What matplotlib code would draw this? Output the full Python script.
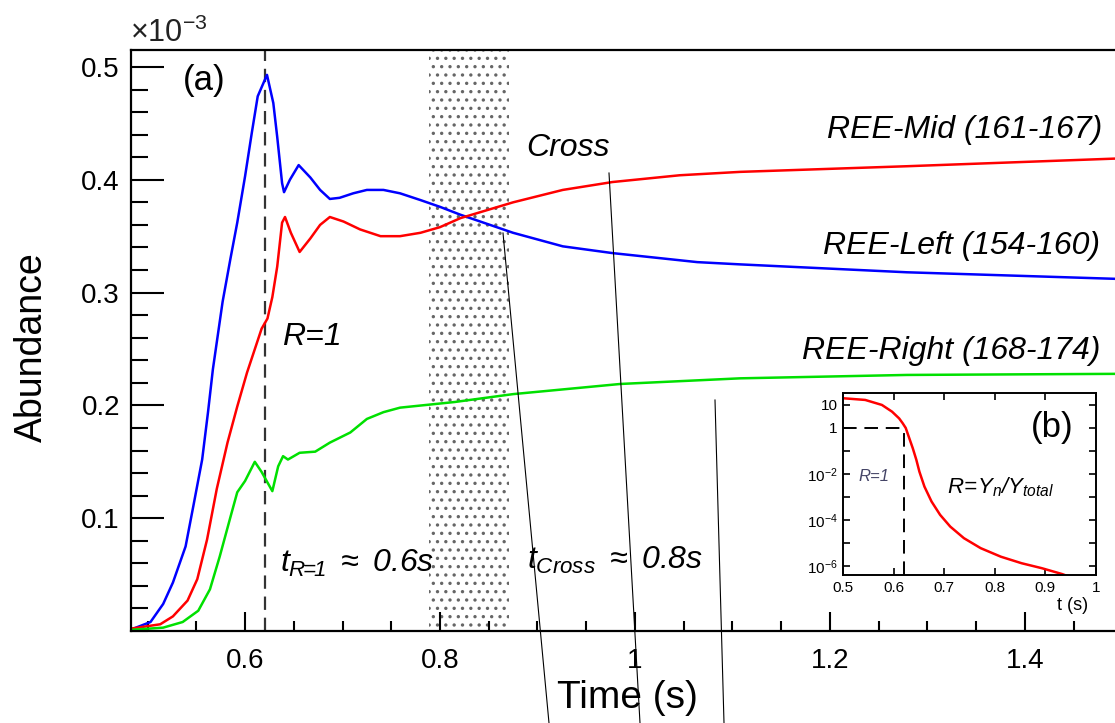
import matplotlib.pyplot as plt
from matplotlib.ticker import MultipleLocator
from matplotlib.lines import Line2D

plt.rcParams['font.family'] = ['Liberation Sans', 'DejaVu Sans']
plt.rcParams['mathtext.fontset'] = 'custom'
plt.rcParams['mathtext.rm'] = 'Liberation Sans:italic'
plt.rcParams['mathtext.it'] = 'Liberation Sans:italic'
plt.rcParams['mathtext.sf'] = 'Liberation Sans'
plt.rcParams['mathtext.bf'] = 'Liberation Sans:bold'
plt.rcParams['hatch.linewidth'] = 1.2

# panel (a): abundances, in units of 1e-3
t_left = [0.482, 0.503, 0.516, 0.526, 0.539, 0.547, 0.556, 0.562, 0.567, 0.572,
          0.577, 0.585, 0.592, 0.600, 0.607, 0.613, 0.6225, 0.629, 0.633,
          0.638, 0.640, 0.646, 0.655, 0.667, 0.677, 0.687, 0.697, 0.711, 0.725,
          0.742, 0.759, 0.780, 0.800, 0.821, 0.875, 0.926, 0.977, 1.064, 1.108,
          1.279, 1.50]
y_left = [0.001, 0.008, 0.024, 0.043, 0.075, 0.111, 0.152, 0.194, 0.232, 0.262,
          0.292, 0.330, 0.362, 0.403, 0.442, 0.474, 0.493, 0.468, 0.438,
          0.397, 0.389, 0.400, 0.413, 0.402, 0.391, 0.383, 0.384, 0.388, 0.391,
          0.391, 0.388, 0.382, 0.376, 0.369, 0.353, 0.341, 0.335, 0.327, 0.325,
          0.318, 0.312]

t_mid = [0.482, 0.513, 0.526, 0.541, 0.551, 0.561, 0.571, 0.582, 0.592, 0.602,
         0.612, 0.617, 0.623, 0.628, 0.633, 0.638, 0.641, 0.647, 0.656, 0.667,
         0.677, 0.687, 0.701, 0.718, 0.739, 0.759, 0.780, 0.800, 0.821, 0.875,
         0.926, 0.977, 1.046, 1.108, 1.279, 1.50]
y_mid = [0.002, 0.006, 0.013, 0.027, 0.046, 0.081, 0.126, 0.167, 0.199, 0.229,
         0.255, 0.268, 0.277, 0.296, 0.323, 0.362, 0.367, 0.353, 0.336, 0.348,
         0.360, 0.367, 0.363, 0.356, 0.350, 0.350, 0.353, 0.358, 0.366, 0.380,
         0.391, 0.398, 0.404, 0.407, 0.412, 0.419]

t_right = [0.482, 0.516, 0.536, 0.552, 0.564, 0.574, 0.585, 0.592, 0.600, 0.610,
           0.617, 0.628, 0.634, 0.639, 0.644, 0.656, 0.672, 0.687, 0.708, 0.725,
           0.742, 0.759, 0.815, 0.875, 0.985, 1.108, 1.279, 1.50]
y_right = [0.001, 0.003, 0.008, 0.018, 0.037, 0.066, 0.101, 0.123, 0.133, 0.150,
           0.141, 0.124, 0.146, 0.155, 0.152, 0.158, 0.159, 0.167, 0.176, 0.188,
           0.194, 0.198, 0.203, 0.210, 0.219, 0.224, 0.227, 0.228]

labels = ['REE-Left (154-160)', 'REE-Mid (161-167)', 'REE-Right (168-174)']
colors = ['#0000ff', '#ff0000', '#00e000']
label_pos = [(1.193, 0.341), (1.197, 0.444), (1.171, 0.248)]

t_r1 = 0.62
cross_band = (0.789, 0.871)

yticks = [0.1, 0.2, 0.3, 0.4, 0.5]
xticks = [0.6, 0.8, 1.0, 1.2, 1.4]
xtick_labels = ['0.6', '0.8', '1', '1.2', '1.4']

# panel (b): R = Y_n / Y_total
t_ratio = [0.5, 0.544, 0.577, 0.597, 0.611, 0.618, 0.624, 0.631, 0.638, 0.645,
           0.651, 0.661, 0.675, 0.692, 0.712, 0.739, 0.772, 0.812, 0.853, 0.893,
           0.933, 0.945]
r_ratio = [19.6, 16.5, 10, 5.1, 2.6, 1.6, 1.0, 0.36, 0.13, 0.041,
           0.0126, 2.8e-3, 6.3e-4, 1.65e-4, 5.1e-5, 1.6e-5, 5.9e-6, 2.5e-6, 1.3e-6, 7.9e-7,
           4.4e-7, 3.5e-7]

fig = plt.figure(figsize=(11.15, 7.23), dpi=100)
ax = fig.add_axes([0.1175, 0.1272, 0.889, 0.8036])

ax.axvspan(*cross_band, facecolor='none', edgecolor='#666666', hatch='..',
           lw=0, zorder=0)
ax.axvline(t_r1, color='#333333', lw=1.6, dashes=(6, 3.5), zorder=1)

for t, y, c in zip([t_left, t_mid, t_right], [y_left, y_mid, y_right], colors):
    ax.plot(t, y, color=c, lw=1.8, zorder=2, solid_joinstyle='round')

for lab, (x, y) in zip(labels, label_pos):
    ax.text(x, y, lab, fontsize=23, style='italic', ha='left', va='center')

ax.text(0.889, 0.428, 'Cross', fontsize=23, style='italic', va='center')
ax.text(0.638, 0.261, 'R=1', fontsize=23, style='italic', va='center')
ax.text(0.636, 0.052, r'$t_{R\!\!=\!\!1}\ \approx\ 0.6s$', fontsize=23,
        va='baseline')
ax.text(0.889, 0.055, r'$t_{Cross}\ \approx\ 0.8s$', fontsize=23,
        va='baseline')
ax.text(0.536, 0.488, '(a)', fontsize=25, va='center')

ax.set_xlim(0.483, 1.5)
ax.set_ylim(0, 0.515)
ax.set_yticks(yticks)
ax.set_yticklabels([f'{v:.1f}' for v in yticks])
ax.yaxis.set_minor_locator(MultipleLocator(0.02))
ax.set_xticks(xticks)
ax.set_xticklabels(xtick_labels)
ax.xaxis.set_minor_locator(MultipleLocator(0.05))
ax.tick_params(axis='y', which='major', direction='in', length=24, width=1.5,
               labelsize=20, pad=8)
ax.tick_params(axis='y', which='minor', direction='in', length=12, width=1.5)
ax.tick_params(axis='x', which='major', direction='in', length=14, width=1.5,
               labelsize=20, pad=12)
ax.tick_params(axis='x', which='minor', direction='in', length=7, width=1.5)
for s in ax.spines.values():
    s.set_linewidth(1.6)

fig.text(130 / 1115, 1 - 42 / 723, r'$\mathsf{\times 10}^{\mathsf{-3}}$',
         fontsize=22, va='baseline', color='#222222')
fig.text(32 / 1115, 1 - 347 / 723, 'Abundance', fontsize=27, rotation=90,
         ha='center', va='center')
fig.text(627 / 1115, 1 - 698 / 723, 'Time (s)', fontsize=28,
         ha='center', va='center')

# inset (b)
axb = fig.add_axes([0.756, 0.2047, 0.227, 0.2517])
axb.plot(t_ratio, r_ratio, color='red', lw=1.8)
axb.set_yscale('log')
axb.set_xlim(0.5, 1.0)
axb.set_ylim(4e-7, 33)
axb.plot([0.5, t_r1], [1, 1], color='black', lw=1.4, dashes=(7, 4))
axb.plot([t_r1, t_r1], [4e-7, 1], color='black', lw=1.4, dashes=(7, 4))
axb.set_yticks([10.0 ** k for k in range(1, -7, -1)])
axb.set_yticklabels(['10', '1', '', r'$\mathsf{10}^{\mathsf{-2}}$', '',
                     r'$\mathsf{10}^{\mathsf{-4}}$', '', r'$\mathsf{10}^{\mathsf{-6}}$'])
axb.yaxis.set_minor_locator(plt.NullLocator())
axb.set_xticks([0.5, 0.6, 0.7, 0.8, 0.9, 1.0])
axb.set_xticklabels(['0.5', '0.6', '0.7', '0.8', '0.9', '1'])
axb.tick_params(which='both', direction='in', top=True, right=True,
                length=5, width=1.2, labelsize=11, pad=4)
for s in axb.spines.values():
    s.set_linewidth(1.4)
axb.text(0.827, 0.81, '(b)', fontsize=25, transform=axb.transAxes,
         ha='center', va='center')
axb.text(0.06, 0.54, 'R=1', fontsize=12, style='italic', color='#444466',
         transform=axb.transAxes, va='center')
axb.text(0.41, 0.48, r'$R\!=\!Y_{n}/Y_{total}$', fontsize=16,
         transform=axb.transAxes, va='center')
fig.text(1073 / 1115, 1 - 605 / 723, 't (s)', fontsize=13, ha='center',
         va='center')

# stray thin lines present in the source image
for (x0, y0), (x1, y1) in [((503, 233), (549, 723)), ((609, 173), (640, 723)),
                           ((715, 400), (724, 723))]:
    fig.add_artist(Line2D([x0 / 1115, x1 / 1115], [1 - y0 / 723, 1 - y1 / 723],
                          transform=fig.transFigure, color='black', lw=0.8))

fig.savefig('out.png', dpi=100)
